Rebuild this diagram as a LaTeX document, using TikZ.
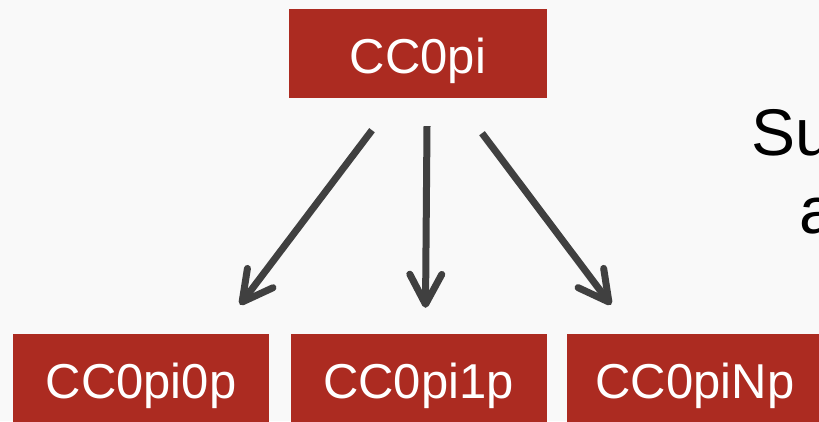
\documentclass[tikz,border=0pt]{standalone}
\usepackage{fontspec}
\setmainfont{Liberation Sans}
\usetikzlibrary{arrows.meta}
\definecolor{boxred}{RGB}{172,43,33}
\definecolor{arrgray}{RGB}{64,64,64}
\definecolor{bggray}{RGB}{249,249,249}

\begin{document}
\begin{tikzpicture}[x=1pt, y=-1pt,
  box/.style = {rectangle, fill=boxred, text=white, inner sep=0pt,
    minimum width=256pt, minimum height=89pt, text height=40pt, text depth=0pt,
    font=\fontsize{49}{49}\selectfont},
  arr/.style = {draw=arrgray, line width=7pt, -{Straight Barb[length=30pt,width=32pt,round]}},
  note/.style = {inner sep=0pt, anchor=base west, font=\fontsize{66}{66}\selectfont}]

\fill[bggray] (0,0) rectangle (819,421);
\useasboundingbox (0,0) rectangle (819,421);

\node[box, minimum width=258pt] (cc0pi) at (418, 53.5) {CC0pi};

\node[box] (zero) at (141, 378.5) {CC0pi0p};
\node[box] (one) at (418.5, 378.5) {CC0pi1p};
\node[box] (many) at (695, 378.5) {CC0piNp};

\draw[arr] ([xshift=-46pt, yshift=-32pt]cc0pi.south) -- ([xshift=99pt, yshift=29pt]zero.north);
\draw[arr] ([xshift=9pt, yshift=-28pt]cc0pi.south) -- ([xshift=7pt, yshift=26pt]one.north);
\draw[arr] ([xshift=64pt, yshift=-35pt]cc0pi.south) -- ([xshift=-84pt, yshift=29pt]many.north);

\node[note] (su) at (751, 155) {Su};
\node[note] (a) at (799, 233) {a};

\end{tikzpicture}
\end{document}
